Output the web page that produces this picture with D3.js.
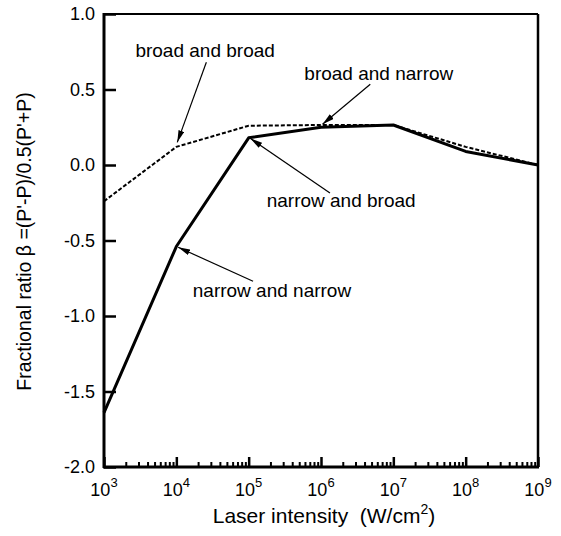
<!DOCTYPE html>
<html>
<head>
<meta charset="utf-8">
<script src="https://cdn.jsdelivr.net/npm/d3@7"></script>
<style>
    body { margin: 0; background: #fff; }
    svg { display: block; font-family: "Liberation Sans", Arial, sans-serif; }
</style>
</head>
<body>
<div id="chart"></div>
<script>
// DATA
const intensity = [1e3, 1e4, 1e5, 1e6, 1e7, 1e8, 1e9];
const narrowNarrow = [-1.64, -0.54, 0.18, 0.25, 0.265, 0.09, 0.0];
const broadBroad = [-0.24, 0.12, 0.26, 0.265, 0.265, 0.12, 0.0];

const yTicks = [-2.0, -1.5, -1.0, -0.5, 0.0, 0.5, 1.0];
const xExponents = [3, 4, 5, 6, 7, 8, 9];

// labels with arrows: text position, arrow tail, arrow tip (data units)
const notes = [
    { text: "broad and broad",   tx: 2.5e4, ty: 0.715, ax: 2.6e4, ay: 0.68,  bx: 1.03e4, by: 0.15 },
    { text: "broad and narrow",  tx: 6.3e6, ty: 0.565, ax: 4.8e6, ay: 0.535, bx: 1.05e6, by: 0.27 },
    { text: "narrow and broad",  tx: 1.9e6, ty: -0.28, ax: 1.33e6, ay: -0.185, bx: 1.06e5, by: 0.175 },
    { text: "narrow and narrow", tx: 2.1e5, ty: -0.875, ax: 1.15e5, ay: -0.77, bx: 1.06e4, by: -0.545 }
];

const W = 561, H = 536;
const m = { left: 104, right: 23, top: 14, bottom: 69 };

const svg = d3.select("#chart").append("svg").attr("width", W).attr("height", H);

const x = d3.scaleLog().domain([1e3, 1e9]).range([m.left, W - m.right]);
const y = d3.scaleLinear().domain([-2, 1]).range([H - m.bottom, m.top]);

// minor ticks 2..9 in each decade
const minor = [];
for (let e = 3; e < 9; e++) for (let k = 2; k <= 9; k++) minor.push(k * Math.pow(10, e));

const fmt = v => d3.format(".1f")(v).replace("−", "-");

// Y axis
svg.append("g")
    .attr("transform", `translate(${m.left},0)`)
    .call(d3.axisLeft(y).tickValues(yTicks).tickSize(-12).tickPadding(9).tickFormat(fmt))
    .call(g => g.select(".domain").remove())
    .call(g => g.selectAll("line").attr("stroke", "#000").attr("stroke-width", 2.5))
    .call(g => g.selectAll("text").attr("font-size", 18).attr("fill", "#000"));

// X axis minor + major ticks (inward)
svg.append("g")
    .attr("transform", `translate(0,${H - m.bottom})`)
    .call(d3.axisBottom(x).tickValues(minor).tickSize(-5).tickFormat(""))
    .call(g => g.select(".domain").remove())
    .call(g => g.selectAll("line").attr("stroke", "#000").attr("stroke-width", 2));

svg.append("g")
    .attr("transform", `translate(0,${H - m.bottom})`)
    .call(d3.axisBottom(x).tickValues(xExponents.map(e => Math.pow(10, e))).tickSize(-10).tickFormat(""))
    .call(g => g.select(".domain").remove())
    .call(g => g.selectAll("line").attr("stroke", "#000").attr("stroke-width", 2.5));

// x tick labels 10^n
const xl = svg.append("g").selectAll("text").data(xExponents).join("text")
    .attr("x", d => x(Math.pow(10, d)))
    .attr("y", H - m.bottom + 29)
    .attr("text-anchor", "middle")
    .attr("font-size", 18);
xl.append("tspan").text("10");
xl.append("tspan").attr("font-size", 13).attr("dy", -9).text(d => d);

// frame
const [x0, x1] = x.range(), [y0, y1] = y.range();
svg.append("line").attr("x1", x0).attr("x2", x1).attr("y1", y1).attr("y2", y1).attr("stroke", "#000").attr("stroke-width", 2);
svg.append("line").attr("x1", x1).attr("x2", x1).attr("y1", y1).attr("y2", y0).attr("stroke", "#000").attr("stroke-width", 2.5);
svg.append("line").attr("x1", x0 - 1).attr("x2", x1 + 1).attr("y1", y0).attr("y2", y0).attr("stroke", "#000").attr("stroke-width", 3);
svg.append("line").attr("x1", x0).attr("x2", x0).attr("y1", y1 - 1).attr("y2", y0 + 1).attr("stroke", "#000").attr("stroke-width", 3);

// curves
const line = d3.line().x((d, i) => x(intensity[i])).y(d => y(d));

svg.append("path").datum(broadBroad)
    .attr("d", line).attr("fill", "none").attr("stroke", "#000")
    .attr("stroke-width", 2).attr("stroke-dasharray", "4,2");

svg.append("path").datum(narrowNarrow)
    .attr("d", line).attr("fill", "none").attr("stroke", "#000")
    .attr("stroke-width", 3).attr("stroke-linejoin", "round");

// arrow head
svg.append("defs").append("marker")
    .attr("id", "arr").attr("viewBox", "0 0 12 6").attr("refX", 12).attr("refY", 3)
    .attr("markerWidth", 12).attr("markerHeight", 6).attr("markerUnits", "userSpaceOnUse")
    .attr("orient", "auto")
    .append("path").attr("d", "M0,0 L12,3 L0,6 Z").attr("fill", "#000");

const ann = svg.append("g");
ann.selectAll("line").data(notes).join("line")
    .attr("x1", d => x(d.ax)).attr("y1", d => y(d.ay))
    .attr("x2", d => x(d.bx)).attr("y2", d => y(d.by))
    .attr("stroke", "#000").attr("stroke-width", 1.2)
    .attr("marker-end", "url(#arr)");
ann.selectAll("text").data(notes).join("text")
    .attr("x", d => x(d.tx)).attr("y", d => y(d.ty))
    .attr("text-anchor", "middle").attr("font-size", 19)
    .text(d => d.text);

// axis titles
const xt = svg.append("text")
    .attr("x", (x0 + x1) / 2 + 3).attr("y", H - 13)
    .attr("text-anchor", "middle").attr("font-size", 21);
xt.append("tspan").text("Laser intensity\u00a0\u00a0(W/cm");
xt.append("tspan").attr("font-size", 14).attr("dy", -9).text("2");
xt.append("tspan").attr("dy", 9).text(")");

svg.append("text")
    .attr("transform", `translate(31,${(y0 + y1) / 2 + 1}) rotate(-90)`)
    .attr("text-anchor", "middle").attr("font-size", 19.5)
    .text("Fractional ratio β =(P'-P)/0.5(P'+P)");
</script>
</body>
</html>
